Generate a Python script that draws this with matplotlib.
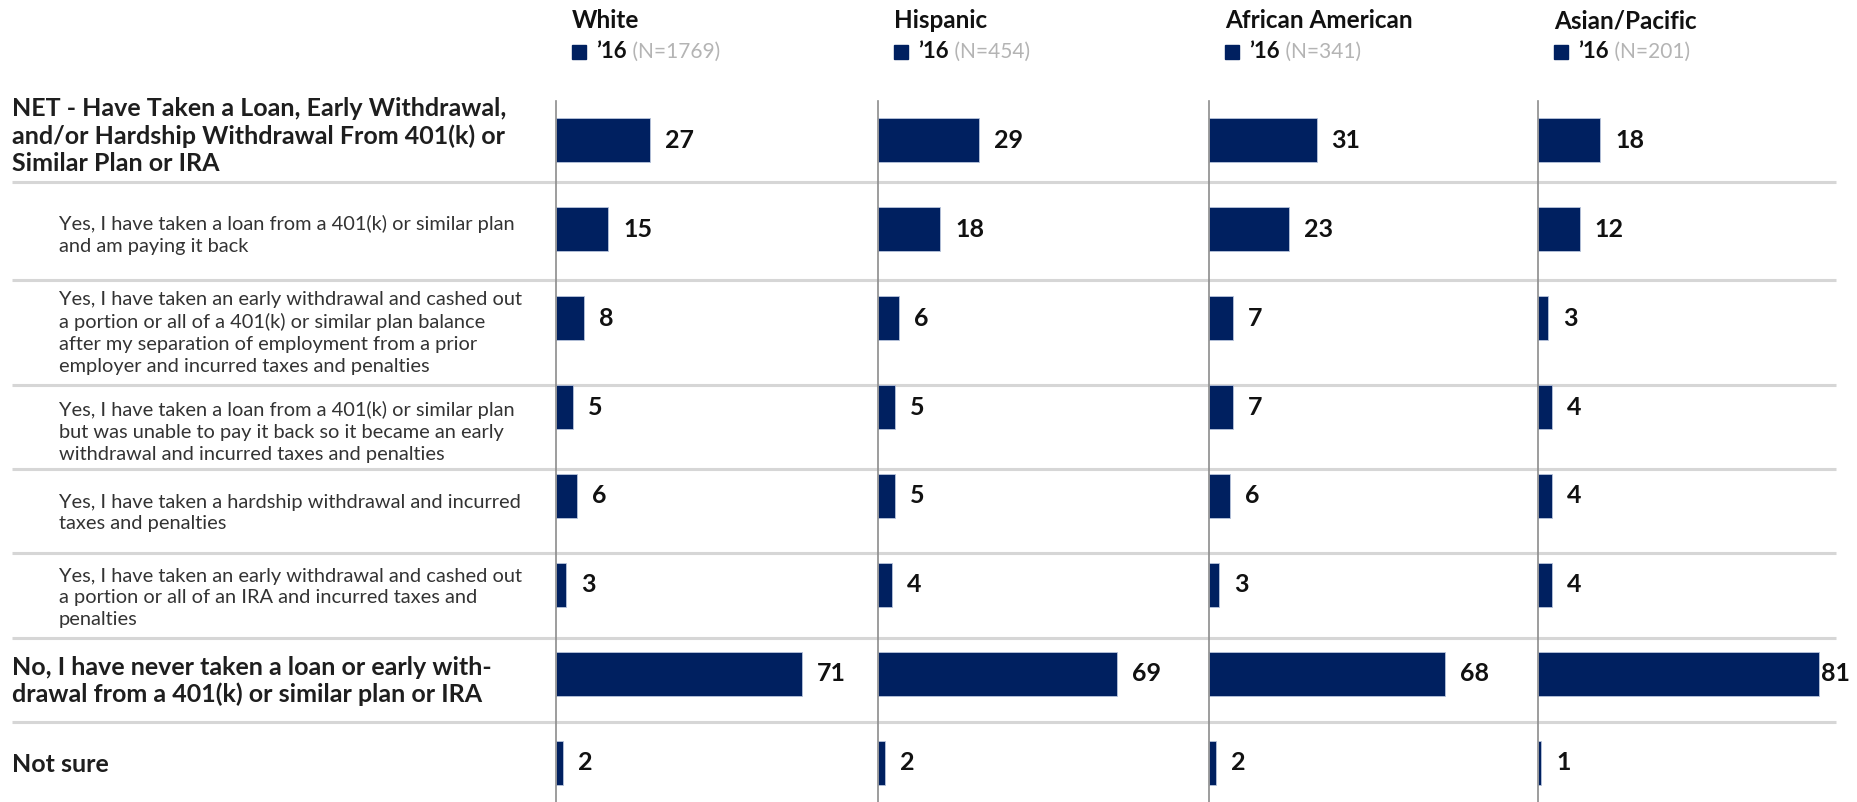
import matplotlib.pyplot as plt
from matplotlib import font_manager

# Daten
rows = [
    "NET - Have Taken a Loan, Early Withdrawal,\nand/or Hardship Withdrawal From 401(k) or\nSimilar Plan or IRA",
    "Yes, I have taken a loan from a 401(k) or similar plan\nand am paying it back",
    "Yes, I have taken an early withdrawal and cashed out\na portion or all of a 401(k) or similar plan balance\nafter my separation of employment from a prior\nemployer and incurred taxes and penalties",
    "Yes, I have taken a loan from a 401(k) or similar plan\nbut was unable to pay it back so it became an early\nwithdrawal and incurred taxes and penalties",
    "Yes, I have taken a hardship withdrawal and incurred\ntaxes and penalties",
    "Yes, I have taken an early withdrawal and cashed out\na portion or all of an IRA and incurred taxes and\npenalties",
    "No, I have never taken a loan or early with-\ndrawal from a 401(k) or similar plan or IRA",
    "Not sure",
]
bold_rows = [0, 6, 7]

groups = ["White", "Hispanic", "African American", "Asian/Pacific"]
sample_sizes = ["(N=1769)", "(N=454)", "(N=341)", "(N=201)"]
year_label = "\u201916"

white = [27, 15, 8, 5, 6, 3, 71, 2]
hispanic = [29, 18, 6, 5, 5, 4, 69, 2]
african_american = [31, 23, 7, 7, 6, 3, 68, 2]
asian_pacific = [18, 12, 3, 4, 4, 4, 81, 1]
values = [white, hispanic, african_american, asian_pacific]

# Layout (Pixel)
W, H = 1858, 802
panel_left = [556, 878, 1209, 1538]
panel_width = 300
px_per_unit = 3.47
plot_top = 101
separators = [182, 280, 385, 469, 553, 638, 722]
label_centers = [136, 235, 333, 432, 513, 598, 681, 764]

bar_color = "#002060"
sep_color = "#d6d6d6"
axis_color = "#8c8c8c"

names = {f.name for f in font_manager.fontManager.ttflist}
font = "Liberation Sans Narrow" if "Liberation Sans Narrow" in names else "Lato"
plt.rcParams["font.family"] = [font, "DejaVu Sans"]

fig = plt.figure(figsize=(W / 100, H / 100), dpi=100)

# Hintergrund-Achse in Pixelkoordinaten
bg = fig.add_axes([0, 0, 1, 1])
bg.set_xlim(0, W)
bg.set_ylim(H, 0)
bg.axis("off")

for y in separators:
    bg.plot([12, 1836], [y, y], color=sep_color, lw=2.2, solid_capstyle="butt", zorder=1)

for i, txt in enumerate(rows):
    if i in bold_rows:
        bg.text(12, label_centers[i], txt, fontsize=18, fontweight="bold", color="#1e1e1e",
                va="center", ha="left", linespacing=1.22)
    else:
        bg.text(59, label_centers[i], txt, fontsize=14.4, color="#333333",
                va="center", ha="left", linespacing=1.33)

# Panels
n = len(rows)
for g, (name, nn, vals, left) in enumerate(zip(groups, sample_sizes, values, panel_left)):
    ax = fig.add_axes([left / W, 0, panel_width / W, (H - plot_top) / H])
    ax.patch.set_alpha(0)
    ax.barh(range(n), vals, height=0.49, color=bar_color, edgecolor="#b8c4dc", linewidth=0.6, zorder=3)
    ax.set_xlim(0, panel_width / px_per_unit)
    ax.set_ylim(n - 0.56, -0.44)
    for s in ["top", "right", "bottom"]:
        ax.spines[s].set_visible(False)
    ax.spines["left"].set_color(axis_color)
    ax.spines["left"].set_linewidth(1.2)
    ax.spines["left"].set_zorder(4)
    ax.set_xticks([])
    ax.set_yticks([])
    for i, v in enumerate(vals):
        ax.text(min(v + 4.3, 81.6), i, str(v), fontsize=18, fontweight="bold", color="#111111",
                va="center", ha="left", clip_on=False)

    # Kopfzeile
    hx = left + 16
    bg.text(hx, 21, name, fontsize=17.5, fontweight="bold", color="#111111", va="center", ha="left")
    bg.add_patch(plt.Rectangle((hx, 45), 14, 14, color=bar_color))
    t = bg.text(hx + 24, 52, year_label, fontsize=16, fontweight="bold", color="#111111",
                va="center", ha="left")
    bg.annotate(" " + nn, xycoords=t, xy=(1, 0.5), va="center", ha="left",
                fontsize=15, color="#b4b4b4")

fig.savefig("out.png", dpi=100)
